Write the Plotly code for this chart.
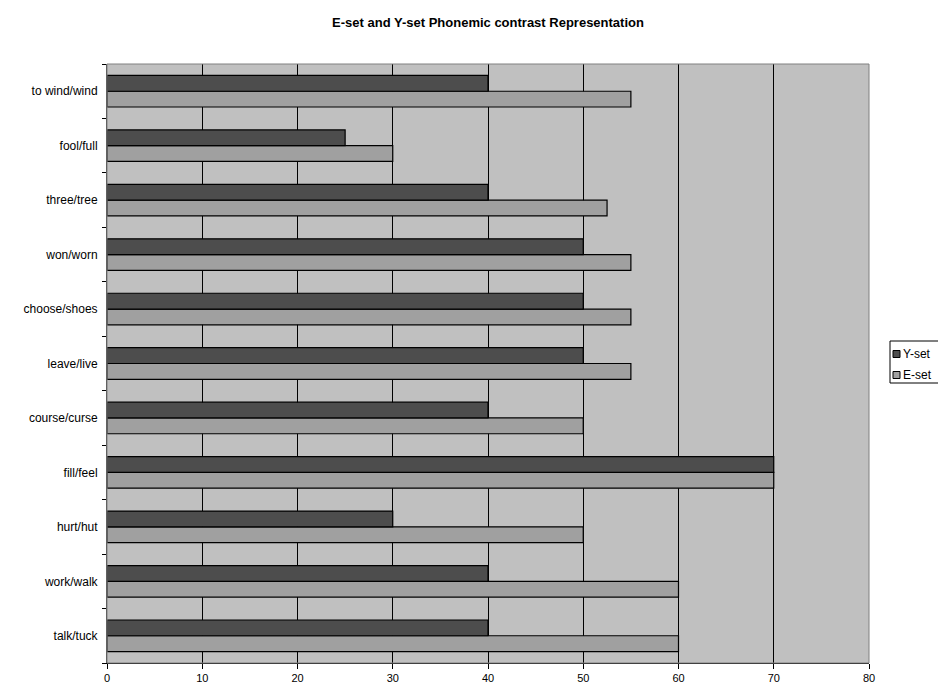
import plotly.graph_objects as go

categories = ["talk/tuck", "work/walk", "hurt/hut", "fill/feel", "course/curse",
              "leave/live", "choose/shoes", "won/worn", "three/tree", "fool/full",
              "to wind/wind"]
y_set = [40, 40, 30, 70, 40, 50, 50, 50, 40, 25, 40]
e_set = [60, 60, 50, 70, 50, 55, 55, 55, 52.5, 30, 55]
x_ticks = [0, 10, 20, 30, 40, 50, 60, 70, 80]
series_names = ["Y-set", "E-set"]
series_colors = ["#4d4d4d", "#a0a0a0"]

W, H = 946, 691
OFF = 8  # page body margin
L, R, T, B = 107 - OFF, 869 - OFF, 64 - OFF, 663 - OFF


def px(xs):
    return (xs - OFF - L) / (R - L)


def py(ys):
    return (B - (ys - OFF)) / (B - T)


fig = go.Figure()
fig.add_trace(go.Bar(y=categories, x=e_set, name="E-set", orientation="h", showlegend=False,
                     marker=dict(color=series_colors[1], line=dict(color="black", width=1.2))))
fig.add_trace(go.Bar(y=categories, x=y_set, name="Y-set", orientation="h", showlegend=False,
                     marker=dict(color=series_colors[0], line=dict(color="black", width=1.2))))

fig.update_layout(
    width=W, height=H,
    margin=dict(l=L, r=W - R, t=T, b=H - B, autoexpand=False),
    paper_bgcolor="white", plot_bgcolor="#c0c0c0",
    barmode="group", bargap=0.42, bargroupgap=0,
    font=dict(family="Liberation Sans, Arial, sans-serif", size=12, color="black"),
    title=dict(text="<b>E-set and Y-set Phonemic contrast Representation</b>",
               x=0.5, xref="paper", xanchor="center", y=1 - (22 - OFF) / H, yanchor="middle",
               font=dict(size=13)),
    showlegend=False,
    xaxis=dict(range=[0, 80], tickvals=x_ticks, showgrid=True, gridcolor="black",
               gridwidth=1, showline=True, linecolor="black", linewidth=1,
               ticks="outside", ticklen=5, tickcolor="black", zeroline=False,
               tickfont=dict(size=11), automargin=False),
    yaxis=dict(categoryorder="array", categoryarray=categories, showgrid=False,
               showline=True, linecolor="#404040", linewidth=1, ticks="outside",
               tickson="boundaries", ticklen=4, tickcolor="black",
               tickfont=dict(size=12), ticklabelstandoff=6, automargin=False),
)
fig.add_shape(type="rect", xref="paper", yref="paper", x0=0, y0=0, x1=1, y1=1,
              line=dict(color="#808080", width=1), layer="above")

# legend box
fig.add_shape(type="rect", xref="paper", yref="paper", x0=px(890), x1=px(943),
              y0=py(383), y1=py(341), line=dict(color="black", width=1),
              fillcolor="white")
for i, (name, col) in enumerate(zip(series_names, series_colors)):
    cy = 354 + 21 * i
    fig.add_shape(type="rect", xref="paper", yref="paper", x0=px(893), x1=px(900),
                  y0=py(cy + 3.5), y1=py(cy - 3.5), fillcolor=col,
                  line=dict(color="black", width=1))
    fig.add_annotation(xref="paper", yref="paper", x=px(901), y=py(cy), text=name,
                       showarrow=False, xanchor="left", yanchor="middle",
                       font=dict(size=12, color="black"))

fig.write_html("out.html")
